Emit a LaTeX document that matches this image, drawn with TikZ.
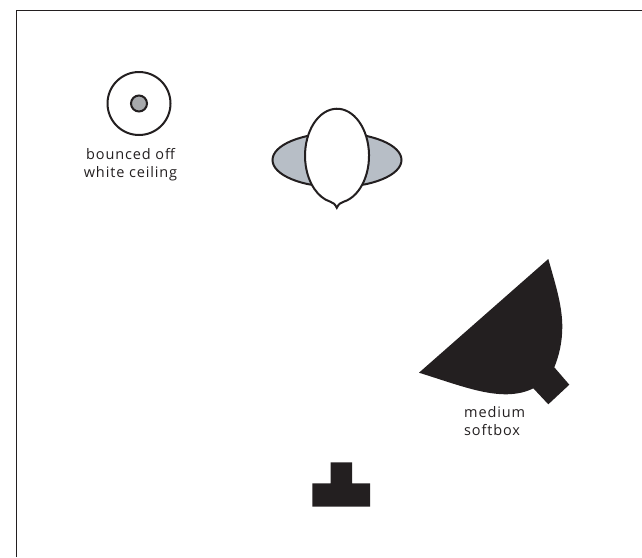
\documentclass[tikz,border=0pt]{standalone}
\usepackage{fontspec}
\setmainfont{Open Sans}[LetterSpace=6]
\definecolor{ink}{HTML}{231F20}
\definecolor{lightgrey}{HTML}{B7BEC6}
\definecolor{midgrey}{HTML}{A7A9AC}
\tikzset{
  outline/.style={draw=ink,line width=2pt},
  solid shape/.style={fill=ink,draw=none},
  caption/.style={text=ink,font=\fontsize{14.5}{18}\selectfont,inner sep=0pt,anchor=base}
}
\begin{document}
\begin{tikzpicture}[x=1pt,y=-1pt]
\useasboundingbox (0,0) rectangle (642,557);
\draw[ink,line width=1pt] (16,557) -- (16,10.5) -- (642,10.5);
% lamp
\node[outline,circle,fill=white,minimum size=63pt,inner sep=0pt] (lamp) at (139,103.5) {};
\node[outline,circle,fill=midgrey,minimum size=16pt,inner sep=0pt] (bulb) at (lamp.center) {};
\node[caption,align=center] (lampcap) at (130.5,177) {bounced off\\white ceiling};
% subject
\filldraw[outline,fill=lightgrey] (337,160) ellipse [x radius=64.5,y radius=27];
\filldraw[outline,fill=white,line join=miter] (344,201.6)
  arc [start angle=77.4,end angle=-257.4,x radius=32,y radius=47]
  .. controls (333,202.5) and (335,204) .. (336.8,207.8)
  .. controls (338.6,204) and (340.6,202.5) .. (344,201.6) -- cycle;
% softbox
\fill[solid shape] (548.3,259) -- (419,372.7)
  .. controls (455,384) and (482,394.5) .. (506.7,394.3)
  .. controls (518,394) and (526,392) .. (533.3,388.3)
  -- (548.3,404.3) -- (569.3,384.7) -- (554.3,367.3)
  .. controls (559,356) and (562.3,342) .. (562.3,326.7)
  .. controls (562.3,305) and (555,283) .. (548.3,259) -- cycle;
\node[caption,align=left,anchor=base west] (softcap) at (464,435) {medium\\softbox};
% camera
\fill[solid shape] (330.7,462.3) -- (352,462.3) -- (352,483.3) -- (370,483.3)
  -- (370,506.7) -- (312.3,506.7) -- (312.3,483.3) -- (330.7,483.3) -- cycle;
\end{tikzpicture}
\end{document}
